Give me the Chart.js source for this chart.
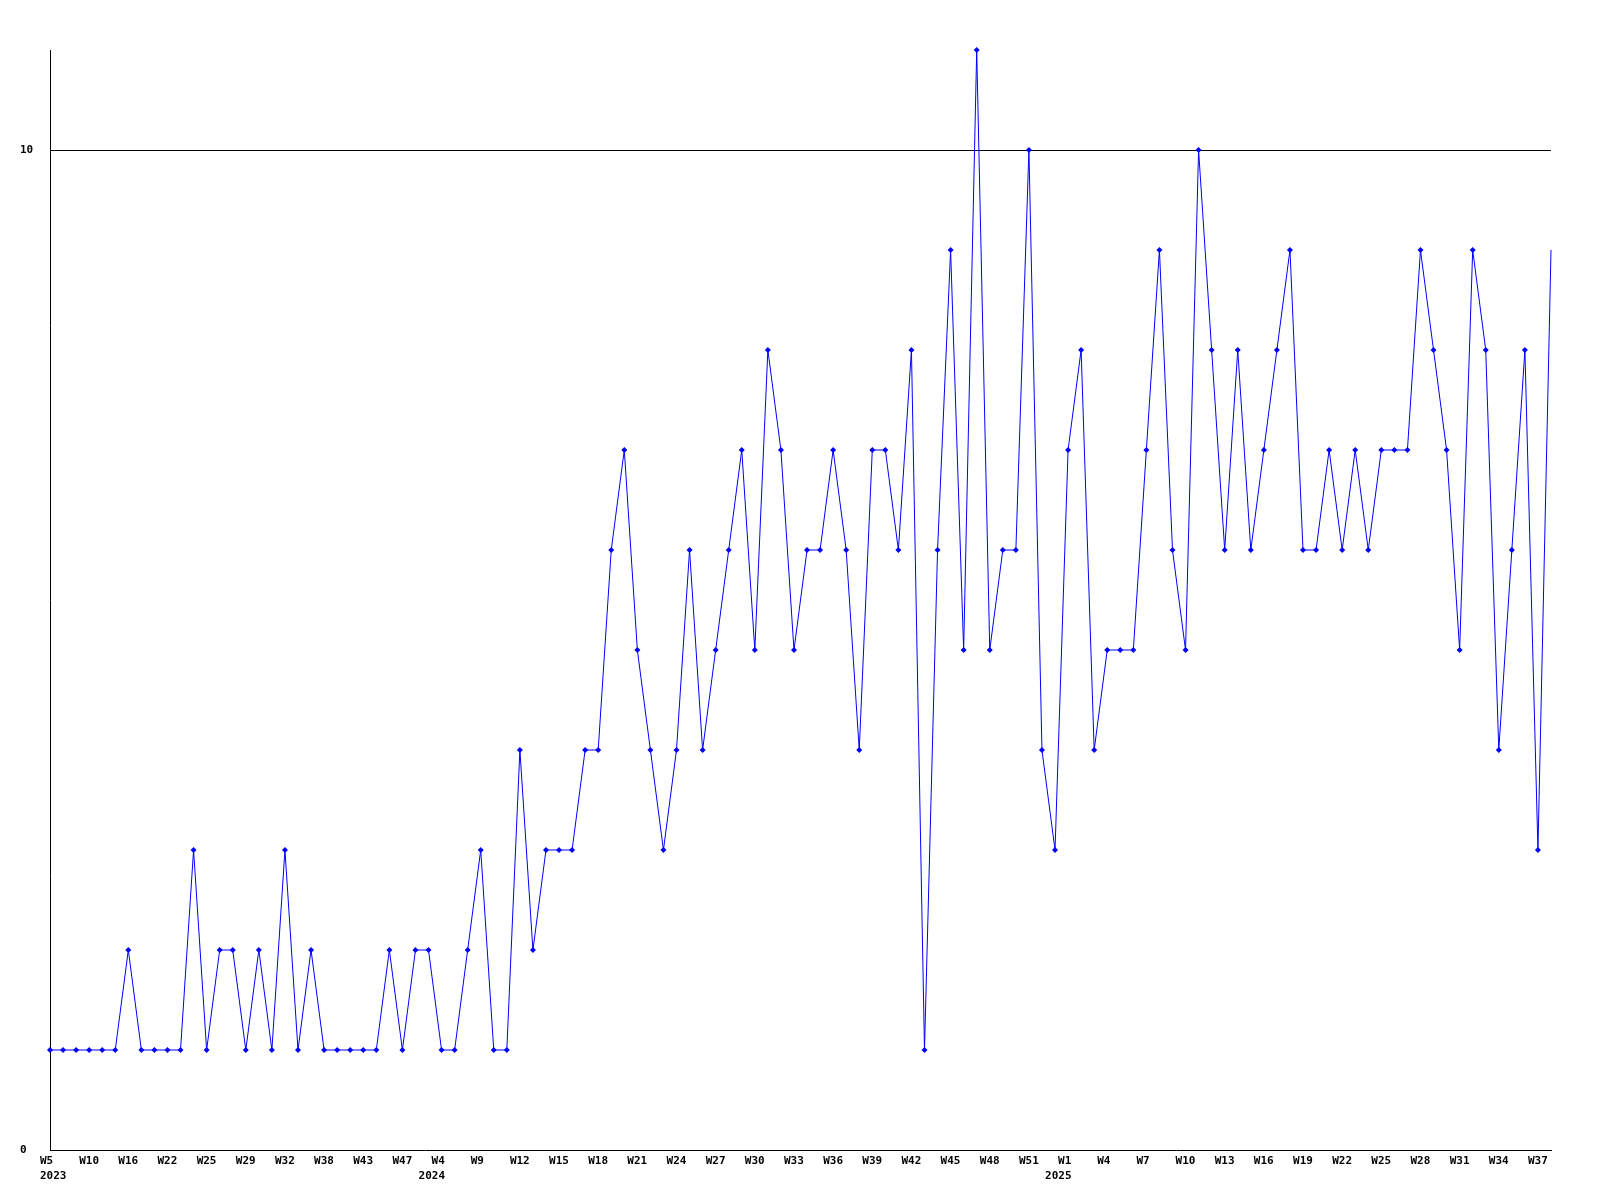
<!DOCTYPE html>
<html>
<head>
<meta charset="utf-8">
<script src="https://cdn.jsdelivr.net/npm/chart.js@4.4.0/dist/chart.umd.min.js"></script>
<style>
  html, body { margin: 0; padding: 0; background: #fff; }
  #wrap { width: 1600px; height: 1200px; }
</style>
</head>
<body>
<div id="wrap"><canvas id="chart" width="1600" height="1200"></canvas></div>
<script>
// week categories (only every 3rd one is labelled on the axis)
const weeks = [
  'W5', 'W7', 'W8', 'W10', 'W12', 'W14', 'W16', 'W18', 'W20', 'W22',
  'W23', 'W24', 'W25', 'W26', 'W27', 'W29', 'W30', 'W31', 'W32', 'W34',
  'W36', 'W38', 'W40', 'W41', 'W43', 'W44', 'W45', 'W47', 'W50',
  'W2', 'W4', 'W6', 'W8', 'W9', 'W10', 'W11', 'W12', 'W13', 'W14',
  'W15', 'W16', 'W17', 'W18', 'W19', 'W20', 'W21', 'W22', 'W23', 'W24',
  'W25', 'W26', 'W27', 'W28', 'W29', 'W30', 'W31', 'W32', 'W33', 'W34',
  'W35', 'W36', 'W37', 'W38', 'W39', 'W40', 'W41', 'W42', 'W43', 'W44',
  'W45', 'W46', 'W47', 'W48', 'W49', 'W50', 'W51', 'W52',
  'W0', 'W1', 'W2', 'W3', 'W4', 'W5', 'W6', 'W7', 'W8', 'W9',
  'W10', 'W11', 'W12', 'W13', 'W14', 'W15', 'W16', 'W17', 'W18', 'W19',
  'W20', 'W21', 'W22', 'W23', 'W24', 'W25', 'W26', 'W27', 'W28', 'W29',
  'W30', 'W31', 'W32', 'W33', 'W34', 'W35', 'W36', 'W37', 'W38'
];
const values = [
  1, 1, 1, 1, 1, 1, 2, 1, 1, 1,
  1, 3, 1, 2, 2, 1, 2, 1, 3, 1,
  2, 1, 1, 1, 1, 1, 2, 1, 2,
  2, 1, 1, 2, 3, 1, 1, 4, 2, 3,
  3, 3, 4, 4, 6, 7, 5, 4, 3, 4,
  6, 4, 5, 6, 7, 5, 8, 7, 5, 6,
  6, 7, 6, 4, 7, 7, 6, 8, 1, 6,
  9, 5, 11, 5, 6, 6, 10, 4,
  3, 7, 8, 4, 5, 5, 5, 7, 9, 6,
  5, 10, 8, 6, 8, 6, 7, 8, 9, 6,
  6, 7, 6, 7, 6, 7, 7, 7, 9, 8,
  7, 5, 9, 8, 4, 6, 8, 3, 9
];
const yearStart = [0, 29, 77];
const yearNames = ['2023', '2024', '2025'];
const yTicks = [0, 10];

const font = { family: '"DejaVu Sans Mono", monospace', size: 11, weight: 'bold', lineHeight: 1.36 };

new Chart(document.getElementById('chart'), {
  type: 'line',
  data: {
    labels: weeks,
    datasets: [{
      data: values,
      borderColor: '#0000ff',
      backgroundColor: '#0000ff',
      borderWidth: 1,
      tension: 0,
      pointStyle: 'rectRot',
      // the last point has no marker in the original
      pointRadius: c => c.dataIndex === values.length - 1 ? 0 : 3,
      pointBorderWidth: 0,
      pointHoverRadius: 3,
      clip: false
    }]
  },
  options: {
    responsive: false,
    animation: false,
    layout: { padding: { left: 20, top: 50, right: 49, bottom: 0 } },
    plugins: { legend: { display: false }, tooltip: { enabled: false } },
    scales: {
      x: {
        type: 'category',
        offset: false,
        grid: { display: false, drawTicks: false },
        border: { display: true, color: '#000', width: 1 },
        afterFit: s => { s.height = 50; },
        ticks: {
          autoSkip: false,
          maxRotation: 0,
          minRotation: 0,
          align: 'start',
          labelOffset: -10,
          padding: 4,
          color: '#000',
          font: font,
          callback: (v, i) => {
            const w = i % 3 === 0 ? weeks[i] : '';
            const y = yearStart.indexOf(i);
            return y >= 0 ? [w, yearNames[y]] : w;
          }
        }
      },
      y: {
        min: 0,
        max: 11,
        afterFit: s => { s.width = 30; },
        afterBuildTicks: s => { s.ticks = yTicks.map(v => ({ value: v })); },
        border: { display: true, color: '#000', width: 1 },
        grid: {
          drawTicks: false,
          color: c => c.tick && c.tick.value === 10 ? '#000' : 'rgba(0,0,0,0)',
          lineWidth: 1
        },
        ticks: {
          crossAlign: 'far',
          padding: 0,
          color: '#000',
          font: font
        }
      }
    }
  }
});
</script>
</body>
</html>
